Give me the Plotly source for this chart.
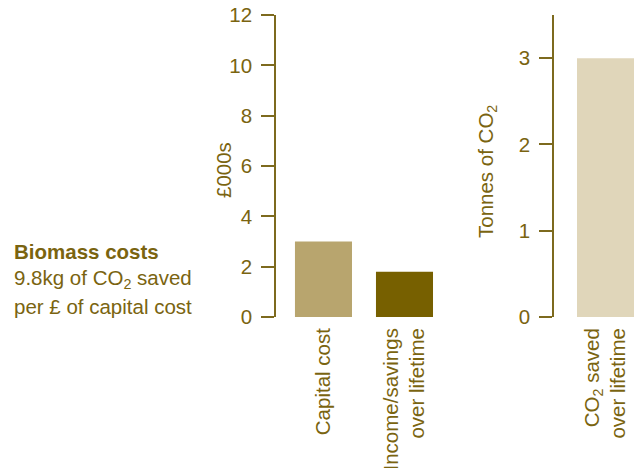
import plotly.graph_objects as go

# Data
cost_categories = ["Capital cost", "Income/savings<br>over lifetime"]
cost_values = [3.0, 1.8]          # £000s
co2_categories = ["CO<sub>2</sub> saved<br>over lifetime"]
co2_values = [3.0]                # tonnes
cost_ticks = [0, 2, 4, 6, 8, 10, 12]
co2_ticks = [0, 1, 2, 3]

TXT = "#7a6410"
LINE = "#7d6a1e"
FONT = "Liberation Sans, Arial, Helvetica, sans-serif"
FS = 20.5
W, H = 634, 468

fig = go.Figure()
fig.add_trace(go.Bar(x=cost_categories, y=cost_values, width=0.704,
                     marker=dict(color=["#b8a56e", "#776000"], line=dict(width=0)),
                     xaxis="x", yaxis="y", showlegend=False))
fig.add_trace(go.Bar(x=co2_categories, y=co2_values, width=0.704,
                     marker=dict(color="#e0d6ba", line=dict(width=0)),
                     xaxis="x2", yaxis="y2", showlegend=False))

y_dom = [(H - 317) / H, (H - 15) / H]
axis_common = dict(showline=True, linecolor=LINE, linewidth=1.5, ticks="outside",
                   ticklen=13, tickcolor=LINE, tickwidth=1.5, showgrid=False,
                   zeroline=False, automargin=False, ticklabelstandoff=5,
                   tickfont=dict(color=TXT, size=FS, family=FONT))
xcommon = dict(showline=False, ticks="", tickangle=-90, showgrid=False,
               zeroline=False, automargin=False, ticklabelstandoff=6,
               tickfont=dict(color=TXT, size=FS, family=FONT))
fig.update_layout(
    width=W, height=H, margin=dict(l=0, r=0, t=0, b=0, autoexpand=False),
    paper_bgcolor="white", plot_bgcolor="rgba(0,0,0,0)",
    font=dict(family=FONT, color=TXT, size=FS),
    xaxis=dict(domain=[276 / W, 445 / W], range=[-0.586, 1.5], **xcommon),
    yaxis=dict(domain=y_dom, range=[0, 12], tickvals=cost_ticks, anchor="x",
               **axis_common),
    xaxis2=dict(domain=[554 / W, 1.0], range=[-0.636, 0.352], anchor="y2",
                **xcommon),
    yaxis2=dict(domain=y_dom, range=[0, 3.5], tickvals=co2_ticks, anchor="x2",
                **axis_common),
)

# Axis titles
fig.add_annotation(x=223 / W, y=(H - 170) / H, xref="paper", yref="paper",
                   text="£000s", textangle=-90, showarrow=False,
                   font=dict(size=FS, color=TXT, family=FONT))
fig.add_annotation(x=502 / W, y=(H - 172) / H, xref="paper", yref="paper",
                   text="Tonnes of CO<sub>2</sub>", textangle=-90, showarrow=False,
                   font=dict(size=FS, color=TXT, family=FONT))

# Left text block
lines = ["<b>Biomass costs</b>", "9.8kg of CO<sub>2</sub> saved", "per £ of capital cost"]
ys = [251, 279, 306]
for t, yy in zip(lines, ys):
    fig.add_annotation(x=12 / W, y=(H - yy) / H, xref="paper", yref="paper",
                       text=t, showarrow=False, xanchor="left", yanchor="middle",
                       font=dict(size=FS, color=TXT, family=FONT))

fig.write_html("out.html")
